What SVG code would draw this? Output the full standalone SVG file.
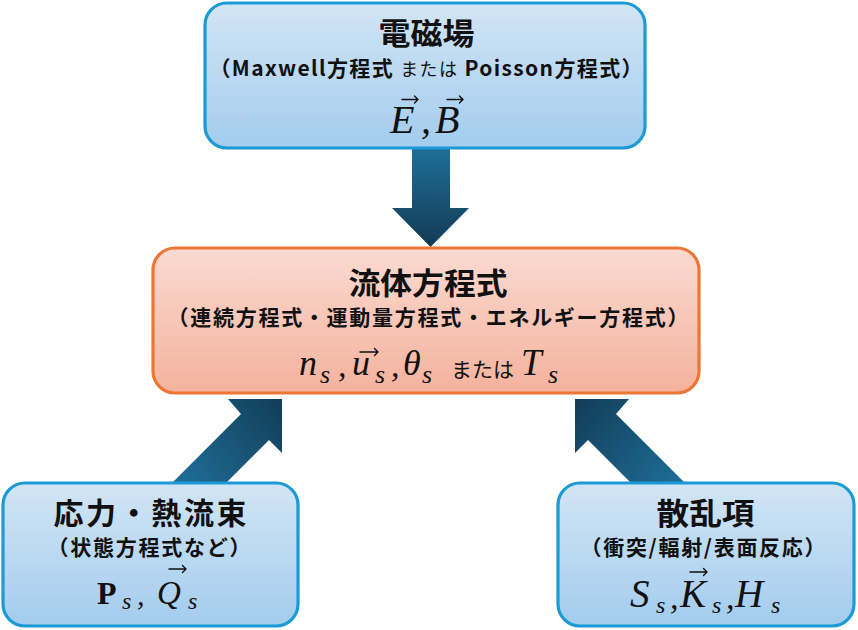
<svg xmlns="http://www.w3.org/2000/svg" width="858" height="630" viewBox="0 0 858 630">
<style>
.blue{stroke:#1b9ad6;stroke-width:3.2;fill:url(#gBlue)}
.orange{stroke:#ec7734;stroke-width:3.2;fill:url(#gOrange)}
.ttl{font-family:"Noto Sans CJK JP","Noto Sans",sans-serif;font-weight:700;font-size:30px;fill:#111;text-anchor:middle}
.sub{font-family:"Noto Sans CJK JP","Noto Sans",sans-serif;font-weight:700;font-size:21px;fill:#111;text-anchor:middle}
.reg{font-family:"Noto Sans CJK JP",sans-serif;font-weight:400;fill:#111}
.mi{font-family:"Liberation Serif",serif;font-style:italic;fill:#111}
.mb{font-family:"Liberation Serif",serif;font-weight:700;fill:#111}
.acc{fill:none;stroke:#111;stroke-width:1.4;stroke-linecap:round;stroke-linejoin:round}
</style>
<defs>
<linearGradient id="gBlue" x1="0" y1="0" x2="0" y2="1">
<stop offset="0" stop-color="#d2e5f4"/><stop offset="1" stop-color="#a3ccee"/>
</linearGradient>
<linearGradient id="gOrange" x1="0" y1="0" x2="0" y2="1">
<stop offset="0" stop-color="#fadad1"/><stop offset="1" stop-color="#f4b29d"/>
</linearGradient>
<linearGradient id="gDown" gradientUnits="userSpaceOnUse" x1="0" y1="148" x2="0" y2="247">
<stop offset="0" stop-color="#1f6f99"/><stop offset="1" stop-color="#123a54"/>
</linearGradient>
<linearGradient id="gLeft" gradientUnits="userSpaceOnUse" x1="176" y1="484" x2="282" y2="399">
<stop offset="0" stop-color="#1f6f99"/><stop offset="1" stop-color="#123d58"/>
</linearGradient>
<linearGradient id="gRight" gradientUnits="userSpaceOnUse" x1="686" y1="484" x2="575" y2="399">
<stop offset="0" stop-color="#1f6f99"/><stop offset="1" stop-color="#123d58"/>
</linearGradient>
</defs>
<rect width="858" height="630" fill="#ffffff"/>
<g id="connectors">
<polygon id="arrow-em-fluid" fill="url(#gDown)" points="412,146 450,146 450,208 469,208 430.5,247 392,208 412,208"/>
<polygon id="arrow-stress-fluid" fill="url(#gLeft)" points="171,484 241,414 228,399 282,399 282,453 269,440 225,484"/>
<polygon id="arrow-scatter-fluid" fill="url(#gRight)" points="686,484 616,414 629,399 575,399 575,453 588,440 632,484"/>
</g>
<g id="node-em">
<rect class="blue" x="205" y="3" width="440" height="145" rx="22"/>
<text class="ttl" x="426.5" y="44" textLength="96" lengthAdjust="spacingAndGlyphs">電磁場</text>
<text class="sub" x="426" y="76" textLength="433" lengthAdjust="spacing">（Maxwell方程式 <tspan class="reg" font-size="18">または</tspan> Poisson方程式）</text>
<text class="mi" x="390" y="133" font-size="40">E</text>
<text class="mi" x="421" y="133" font-size="40">,</text>
<text class="mi" x="435" y="133" font-size="40">B</text>
<path class="acc" d="M402,99.5 H418 M414.5,96 L418,99.5 L414.5,103"/>
<path class="acc" d="M447,99.5 H463 M459.5,96 L463,99.5 L459.5,103"/>
</g>
<g id="node-fluid">
<rect class="orange" x="153" y="248" width="546" height="145" rx="22"/>
<text class="ttl" x="428" y="294" textLength="159" lengthAdjust="spacingAndGlyphs">流体方程式</text>
<text class="sub" x="428" y="325" textLength="521" lengthAdjust="spacing">（連続方程式・運動量方程式・エネルギー方程式）</text>
<text class="mi" x="299" y="375" font-size="36">n</text>
<text class="mi" x="320" y="383" font-size="26">s</text>
<text class="mi" x="338" y="377" font-size="34">,</text>
<text class="mi" x="352" y="375" font-size="36">u</text>
<path class="acc" d="M360,352 H378 M374.5,348.5 L378,352 L374.5,355.5"/>
<text class="mi" x="375" y="383" font-size="26">s</text>
<text class="mi" x="391" y="377" font-size="34">,</text>
<text class="mi" x="403" y="375" font-size="36">θ</text>
<text class="mi" x="422" y="383" font-size="26">s</text>
<text class="reg" x="451" y="377" font-size="21">または</text>
<text class="mi" x="521" y="375" font-size="37">T</text>
<text class="mi" x="548" y="383" font-size="26">s</text>
</g>
<g id="node-stress">
<rect class="blue" x="3" y="483" width="295" height="143" rx="22"/>
<text class="ttl" x="150" y="524" textLength="193" lengthAdjust="spacing">応力・熱流束</text>
<text class="sub" x="149" y="555" textLength="203" lengthAdjust="spacing">（状態方程式など）</text>
<text class="mb" x="97" y="604" font-size="32">P</text>
<text class="mi" x="122" y="609" font-size="24">s</text>
<text class="mi" x="137" y="605" font-size="30">,</text>
<text class="mi" x="157" y="604" font-size="33">Q</text>
<path class="acc" d="M169,569 H186 M182.5,565.5 L186,569 L182.5,572.5"/>
<text class="mi" x="188" y="609" font-size="24">s</text>
</g>
<g id="node-scatter">
<rect class="blue" x="558" y="483" width="296" height="143" rx="22"/>
<text class="ttl" x="705.5" y="524" textLength="98" lengthAdjust="spacingAndGlyphs">散乱項</text>
<text class="sub" x="703" y="555" textLength="245" lengthAdjust="spacing">（衝突/輻射/表面反応）</text>
<text class="mi" x="630" y="607" font-size="39">S</text>
<text class="mi" x="656" y="613" font-size="24">s</text>
<text class="mi" x="670" y="609" font-size="34">,</text>
<text class="mi" x="680" y="607" font-size="39">K</text>
<path class="acc" d="M690,572 H707 M703.5,568.5 L707,572 L703.5,575.5"/>
<text class="mi" x="712" y="613" font-size="24">s</text>
<text class="mi" x="726" y="609" font-size="34">,</text>
<text class="mi" x="735" y="607" font-size="39">H</text>
<text class="mi" x="771" y="613" font-size="24">s</text>
</g>
</svg>
